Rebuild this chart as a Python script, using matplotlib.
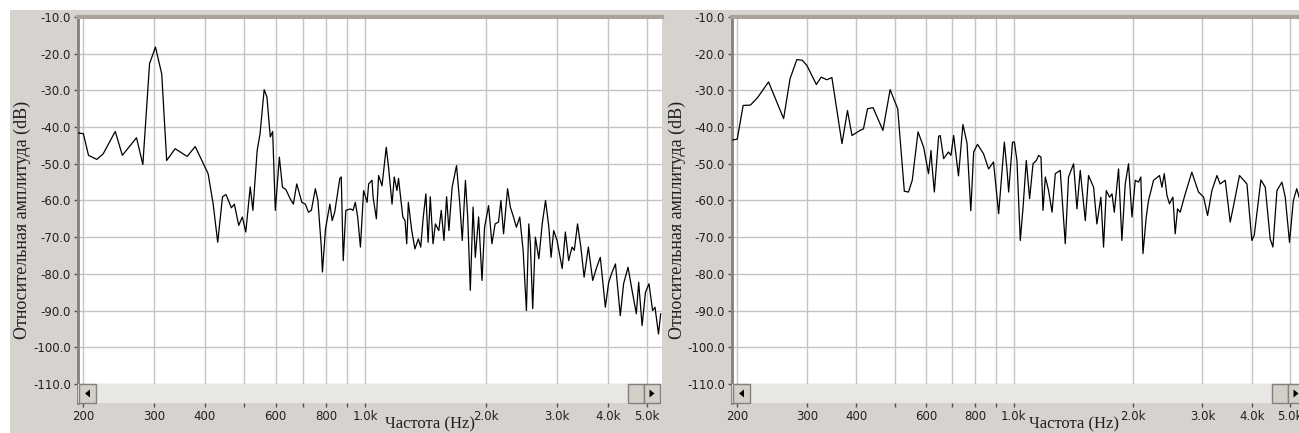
import matplotlib.pyplot as plt
from matplotlib.patches import Rectangle, Polygon

W, H = 1299, 433

# spectrum of the first recording (Hz, dB)
freq_a = [194, 200, 206, 216, 224, 240, 250, 271, 281, 292, 302, 313, 322, 338, 362,
          379, 397, 408, 420, 431, 443, 452, 466, 474, 486, 496, 506, 519, 527, 540,
          549, 562, 571, 582, 590, 599, 613, 624, 636, 652, 664, 677, 697, 711, 724,
          736, 753, 764, 779, 784, 798, 818, 829, 841, 866, 873, 883, 896, 920, 934,
          946, 959, 974, 992, 1012, 1021, 1041, 1047, 1067, 1081, 1102, 1129, 1144, 1167,
          1182, 1200, 1211, 1241, 1257, 1269, 1281, 1306, 1330, 1356, 1375, 1395, 1416,
          1434, 1452, 1475, 1495, 1524, 1546, 1570, 1594, 1615, 1645, 1687, 1719, 1743,
          1775, 1798, 1825, 1854, 1878, 1914, 1951, 1980, 2026, 2065, 2103, 2144, 2174,
          2207, 2258, 2294, 2330, 2375, 2421, 2468, 2515, 2549, 2572, 2607, 2647, 2700,
          2752, 2805, 2859, 2895, 2939, 2996, 3085, 3142, 3201, 3264, 3306, 3368, 3432,
          3497, 3583, 3673, 3758, 3836, 3948, 4024, 4105, 4183, 4300, 4382, 4494, 4599,
          4713, 4776, 4870, 4966, 5066, 5171, 5243, 5349, 5416]
db_a = [-41.6, -41.8, -47.7, -48.8, -47.3, -41.2, -47.7, -42.9, -50.2, -22.7, -18.2, -25.5,
        -49.1, -45.9, -48.0, -45.3, -50.0, -52.7, -61.0, -71.4, -59.0, -58.4, -62.0, -61.0,
        -66.8, -64.5, -68.6, -56.3, -62.7, -46.4, -41.8, -29.8, -31.8, -42.7, -41.2, -62.7,
        -48.2, -56.4, -57.0, -59.5, -61.0, -55.5, -60.5, -61.0, -63.2, -62.7, -56.8, -60.0,
        -72.7, -79.5, -67.7, -61.0, -65.5, -63.2, -54.0, -53.6, -76.4, -62.7, -62.3, -62.7,
        -60.5, -64.5, -72.7, -57.3, -60.5, -55.5, -54.5, -59.0, -65.0, -53.2, -56.0, -45.5,
        -51.0, -61.0, -53.6, -57.3, -54.0, -64.5, -65.5, -71.8, -60.5, -68.2, -73.2, -70.5,
        -72.7, -64.5, -58.2, -71.4, -59.0, -71.8, -66.4, -68.2, -62.7, -70.9, -59.0, -68.2,
        -56.4, -50.5, -61.0, -70.9, -54.5, -64.5, -84.5, -61.8, -75.5, -64.5, -81.8, -67.3,
        -61.4, -71.8, -66.4, -65.9, -60.0, -69.1, -56.8, -61.8, -64.1, -67.3, -64.5, -73.6,
        -90.0, -66.4, -71.8, -89.5, -70.0, -75.9, -66.4, -60.0, -67.3, -75.5, -68.2, -70.9,
        -78.6, -68.6, -76.4, -72.7, -73.6, -66.4, -72.7, -80.9, -72.7, -81.8, -78.2, -75.5,
        -89.1, -82.3, -79.5, -77.3, -91.4, -82.7, -78.2, -84.5, -90.9, -82.3, -94.1, -85.0,
        -82.7, -90.0, -89.1, -96.4, -90.9]

# spectrum of the second recording (Hz, dB)
freq_b = [195, 200, 207, 216, 225, 240, 262, 272, 283, 292, 300, 317, 326, 337, 347,
          368, 380, 390, 409, 417, 427, 441, 467, 487, 509, 529, 542, 554, 573, 592,
          609, 618, 621, 630, 646, 652, 665, 684, 694, 705, 725, 744, 762, 779, 792,
          810, 839, 864, 889, 916, 947, 962, 971, 993, 1004, 1019, 1039, 1056, 1076,
          1097, 1119, 1141, 1156, 1172, 1186, 1202, 1225, 1250, 1274, 1311, 1350, 1376,
          1417, 1445, 1473, 1517, 1546, 1592, 1623, 1661, 1687, 1714, 1747, 1772, 1796,
          1841, 1877, 1914, 1951, 1990, 2029, 2068, 2096, 2122, 2163, 2192, 2257, 2337,
          2370, 2402, 2440, 2476, 2526, 2560, 2595, 2635, 2714, 2820, 2932, 3020, 3091,
          3170, 3264, 3326, 3426, 3526, 3596, 3722, 3887, 3999, 4056, 4216, 4325, 4450,
          4522, 4629, 4765, 4858, 4980, 5093, 5194, 5266]
db_b = [-43.5, -43.3, -34.1, -34.0, -32.0, -27.7, -37.7, -26.8, -21.6, -21.8, -23.2, -28.4,
        -26.4, -27.1, -26.5, -44.5, -35.5, -42.3, -40.9, -40.5, -35.0, -34.7, -40.9, -29.8,
        -35.0, -57.5, -57.7, -54.5, -41.3, -45.5, -52.7, -46.4, -50.0, -57.7, -42.5, -42.3,
        -48.6, -46.8, -47.7, -42.3, -53.3, -39.3, -44.4, -62.8, -46.8, -44.7, -47.3, -51.4,
        -49.5, -63.6, -44.1, -51.8, -57.7, -44.1, -44.1, -49.1, -70.9, -61.8, -49.1, -59.5,
        -50.0, -49.1, -47.7, -48.2, -62.7, -53.6, -57.3, -63.2, -52.7, -51.8, -71.8, -53.6,
        -50.0, -62.3, -51.8, -65.5, -53.2, -56.4, -66.4, -59.1, -72.7, -57.3, -59.1, -58.2,
        -63.2, -51.4, -70.9, -55.5, -50.0, -64.5, -54.5, -55.0, -53.6, -74.5, -64.5, -60.0,
        -54.5, -53.2, -56.4, -52.7, -58.6, -60.9, -59.1, -69.1, -62.3, -63.2, -58.2, -52.3,
        -57.7, -59.1, -64.1, -57.3, -53.2, -55.5, -54.5, -65.9, -61.4, -53.2, -55.5, -70.9,
        -69.5, -54.4, -56.4, -70.5, -72.7, -57.3, -55.0, -59.1, -71.4, -60.0, -56.8, -59.1]

x_ticks = [200, 300, 400, 500, 600, 700, 800, 900, 1000, 2000, 3000, 4000, 5000]
x_labels = ['200', '300', '400', '', '600', '', '800', '', '1.0k', '2.0k', '3.0k', '4.0k', '5.0k']
y_ticks = [-110, -100, -90, -80, -70, -60, -50, -40, -30, -20, -10]
y_labels = ['-110.0', '-100.0', '-90.0', '-80.0', '-70.0', '-60.0', '-50.0', '-40.0',
            '-30.0', '-20.0', '-10.0']

BG = '#d6d3ce'
fig = plt.figure(figsize=(W / 100, H / 100), dpi=100, facecolor=BG)


def box(x0, y0, x1, y1, **kw):
    # rectangle in figure pixels (y measured from top)
    r = Rectangle((x0 / W, 1 - y1 / H), (x1 - x0) / W, (y1 - y0) / H,
                  transform=fig.transFigure, **kw)
    fig.add_artist(r)


def arrow(cx, cy, d):
    # small black scroll arrow, d=-1 points left, d=1 points right
    pts = [((cx - d * 2.5) / W, 1 - (cy - 4) / H),
           ((cx - d * 2.5) / W, 1 - (cy + 4) / H),
           ((cx + d * 2.5) / W, 1 - cy / H)]
    fig.add_artist(Polygon(pts, closed=True, transform=fig.transFigure,
                           facecolor='black', edgecolor='none', zorder=7))


def button(x0, x1, y0=384, y1=403):
    box(x0, y0, x1, y1, facecolor='#d4d0c8', edgecolor='#808080', lw=1, zorder=6)


def panel(x0, x1, xlim, freq, db):
    ax = fig.add_axes([x0 / W, (H - 403) / H, (x1 - x0) / W, (403 - 17) / H])
    ax.set_facecolor('white')
    ax.plot(freq, db, color='black', lw=0.9, zorder=3)
    ax.set_xscale('log')
    ax.set_xlim(*xlim)
    ax.set_ylim(-115.2, -10)
    ax.set_xticks(x_ticks)
    ax.set_xticklabels(x_labels)
    ax.minorticks_off()
    ax.set_yticks(y_ticks)
    ax.set_yticklabels(y_labels)
    ax.grid(True, color='#c4c4c4', lw=1)
    ax.set_axisbelow(True)
    ax.tick_params(axis='both', length=3, width=1, color='#505050',
                   labelsize=8.5, labelcolor='#202020', pad=2)
    for s in ['right', 'bottom']:
        ax.spines[s].set_visible(False)
    ax.spines['top'].set_color('#a8a49c')
    ax.spines['top'].set_linewidth(3)
    ax.spines['left'].set_color('#808080')
    ax.spines['left'].set_linewidth(2)
    # scrollbar strip at the bottom of the plot
    ax.add_patch(Rectangle((0, 0), 1, 19 / 386, transform=ax.transAxes,
                           facecolor='#e9e7e3', edgecolor='none', zorder=5))
    return ax


panel(78, 662, (194, 5457), freq_a, db_a)
panel(732, 1299, (194, 5263), freq_b, db_b)

# scrollbar buttons
button(79, 96)
arrow(87.5, 393.5, -1)
button(628, 644)
button(644, 660)
arrow(652, 393.5, 1)
button(733, 750)
arrow(741.5, 393.5, -1)
button(1272, 1288)
button(1288, 1304)
arrow(1296, 393.5, 1)

# white margin round the windows
box(0, 0, W, 10, facecolor='white', edgecolor='none', zorder=8)
box(0, 0, 10, H, facecolor='white', edgecolor='none', zorder=8)

ylab = 'Относительная амплитуда (dB)'
xlab = 'Частота (Hz)'
for x in [22, 677]:
    fig.text(x / W, 1 - 220 / H, ylab, rotation=90, ha='center', va='center',
             family='Liberation Serif', fontsize=13, color='#202020')
for x in [430, 1074]:
    fig.text(x / W, 1 - 424 / H, xlab, ha='center', va='center',
             family='Liberation Serif', fontsize=12, color='#202020')

fig.savefig('out.png', dpi=100, facecolor=BG)
